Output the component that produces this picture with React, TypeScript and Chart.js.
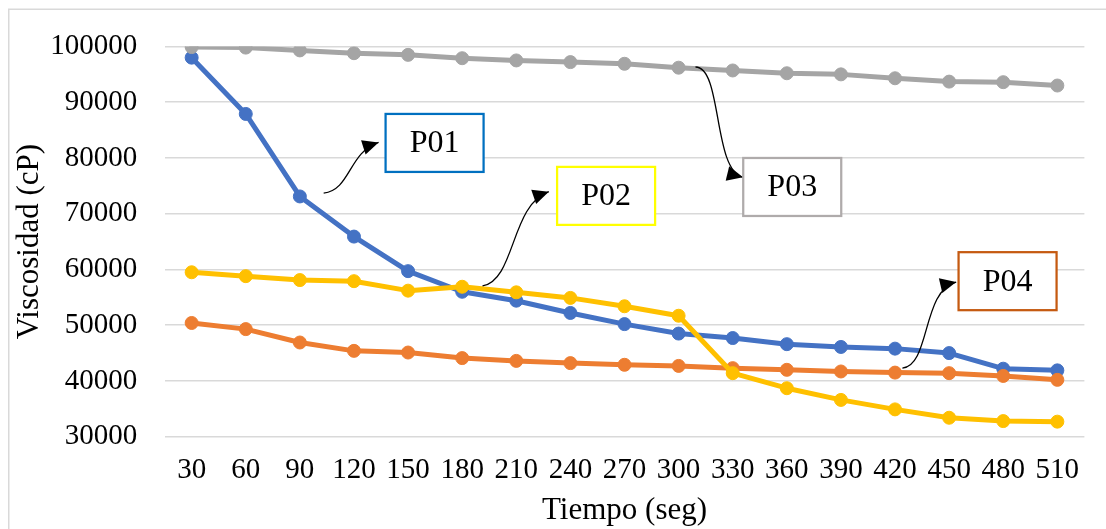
import React, { useEffect, useRef } from "react";
import { Chart, registerables } from "chart.js";

Chart.register(...registerables);

// ---------- data ----------
const categories = ["30", "60", "90", "120", "150", "180", "210", "240", "270", "300", "330", "360", "390", "420", "450", "480", "510"];
const p01 = [98000, 87900, 73100, 65900, 59700, 56000, 54400, 52200, 50200, 48500, 47700, 46600, 46100, 45800, 45000, 42200, 41900];
const p02 = [59500, 58800, 58100, 57900, 56200, 56900, 55900, 54900, 53400, 51700, 41400, 38700, 36600, 34900, 33400, 32800, 32700];
const p03 = [99900, 99800, 99300, 98800, 98500, 97900, 97500, 97200, 96900, 96200, 95700, 95200, 95000, 94300, 93700, 93600, 93000];
const p04 = [50400, 49300, 46900, 45400, 45100, 44100, 43600, 43200, 42900, 42700, 42300, 42000, 41700, 41500, 41400, 40900, 40200];
const yMin = 30000;
const yMax = 100000;
const yStep = 10000;

// annotation labels (centre given as [category index, value])
const labelNames = ["P01", "P02", "P03", "P04"];
const labelCenters = [[4.49, 82700], [7.66, 73200], [11.1, 74800], [15.08, 57900]];
const labelColors = ["#0070C0", "#FFFF00", "#AFABAB", "#C55A11"];
// curved arrows: cubic bezier control points as [category index, value]
const arrowP01 = [[2.44, 73700], [2.94, 74260], [2.9, 81070], [3.455, 82780]];
const arrowP02 = [[5.376, 57040], [5.986, 58110], [5.894, 71570], [6.601, 73950]];
const arrowP03 = [[9.312, 96320], [9.81, 96320], [9.63, 77850], [10.19, 76540]];
const arrowP04 = [[13.136, 42320], [13.65, 42680], [13.5, 56320], [14.13, 57750]];
const arrows = [arrowP01, arrowP02, arrowP03, arrowP04];

const FONT = "'Liberation Serif', 'Times New Roman', serif";

const framePlugin = {
  id: "frame",
  beforeDraw(chart: any) {
    const ctx = chart.ctx;
    ctx.save();
    ctx.strokeStyle = "#d9d9d9";
    ctx.lineWidth = 1.5;
    ctx.beginPath();
    ctx.moveTo(0.75, chart.height);
    ctx.lineTo(0.75, 1.25);
    ctx.lineTo(chart.width, 1.25);
    ctx.stroke();
    ctx.restore();
  },
};

const annotationPlugin = {
  id: "annot",
  afterDatasetsDraw(chart: any) {
    const ctx = chart.ctx;
    const xs = chart.scales.x;
    const ys = chart.scales.y;
    const px = (p: number[]) => [xs.getPixelForValue(p[0]), ys.getPixelForValue(p[1])];
    ctx.save();
    ctx.strokeStyle = "#000";
    ctx.fillStyle = "#000";
    arrows.forEach((path) => {
      const pts = path.map(px);
      ctx.beginPath();
      ctx.lineWidth = 1.3;
      ctx.moveTo(pts[0][0], pts[0][1]);
      ctx.bezierCurveTo(pts[1][0], pts[1][1], pts[2][0], pts[2][1], pts[3][0], pts[3][1]);
      ctx.stroke();
      const [tx, ty] = pts[3];
      const [bx, by] = pts[2];
      const a = Math.atan2(ty - by, tx - bx);
      const L = 16;
      const W = 7.5;
      const c = Math.cos(a);
      const s = Math.sin(a);
      ctx.beginPath();
      ctx.moveTo(tx, ty);
      ctx.lineTo(tx - L * c + W * s, ty - L * s - W * c);
      ctx.lineTo(tx - L * c - W * s, ty - L * s + W * c);
      ctx.closePath();
      ctx.fill();
    });
    const bw = 98;
    const bh = 58;
    labelNames.forEach((name, i) => {
      const [cx, cy] = px(labelCenters[i]);
      ctx.fillStyle = "#fff";
      ctx.fillRect(cx - bw / 2, cy - bh / 2, bw, bh);
      ctx.strokeStyle = labelColors[i];
      ctx.lineWidth = 2.25;
      ctx.strokeRect(cx - bw / 2, cy - bh / 2, bw, bh);
      ctx.fillStyle = "#000";
      ctx.font = `32px ${FONT}`;
      ctx.textAlign = "center";
      ctx.textBaseline = "middle";
      ctx.fillText(name, cx, cy + 1);
    });
    ctx.restore();
  },
};

function ds(label: string, data: number[], color: string, order: number) {
  return {
    label,
    data,
    borderColor: color,
    backgroundColor: color,
    borderWidth: 5,
    pointRadius: 6.5,
    pointBorderWidth: 1,
    pointBackgroundColor: color,
    pointBorderColor: color,
    borderJoinStyle: "round" as const,
    borderCapStyle: "round" as const,
    tension: 0,
    order,
  };
}

export default function App() {
  const ref = useRef<HTMLCanvasElement | null>(null);
  useEffect(() => {
    if (!ref.current) return;
    const chart = new Chart(ref.current, {
      type: "line",
      data: {
        labels: categories,
        datasets: [
          ds("P01", p01, "#4472C4", 3),
          ds("P02", p02, "#FFC000", 1),
          ds("P03", p03, "#A5A5A5", 0),
          ds("P04", p04, "#ED7D31", 2),
        ],
      },
      options: {
        responsive: false,
        animation: false,
        layout: { padding: { top: 38.5, right: 21.6, left: 0, bottom: 0 } },
        plugins: { legend: { display: false }, tooltip: { enabled: false } },
        scales: {
          x: {
            type: "category",
            offset: true,
            grid: { display: false, drawTicks: false },
            border: { display: false },
            ticks: { color: "#000", font: { family: FONT, size: 29 }, padding: 16, maxRotation: 0, autoSkip: false },
            title: { display: true, text: "Tiempo (seg)", color: "#000", font: { family: FONT, size: 31 }, padding: { top: 0, bottom: 0 } },
            afterFit: (s: any) => { s.height = 92.3; },
          },
          y: {
            min: yMin,
            max: yMax,
            grid: { color: "#d9d9d9", lineWidth: 1.5, drawTicks: false },
            border: { display: false },
            ticks: {
              stepSize: yStep,
              color: "#000",
              font: { family: FONT, size: 29 },
              padding: 27.3,
              callback: (v: any) => String(v),
            },
            title: { display: true, text: "Viscosidad (cP)", color: "#000", font: { family: FONT, size: 31 }, padding: { top: 3, bottom: 0 } },
            afterFit: (s: any) => { s.width = 156.6; s.paddingTop = 0; s.paddingBottom = 0; },
          },
        },
      },
      plugins: [framePlugin, annotationPlugin],
    });
    return () => chart.destroy();
  }, []);
  return (
    <div style={{ position: "fixed", left: 8, top: 8, width: 1098, height: 521 }}>
      <canvas ref={ref} width={1098} height={521} style={{ display: "block" }} />
    </div>
  );
}
